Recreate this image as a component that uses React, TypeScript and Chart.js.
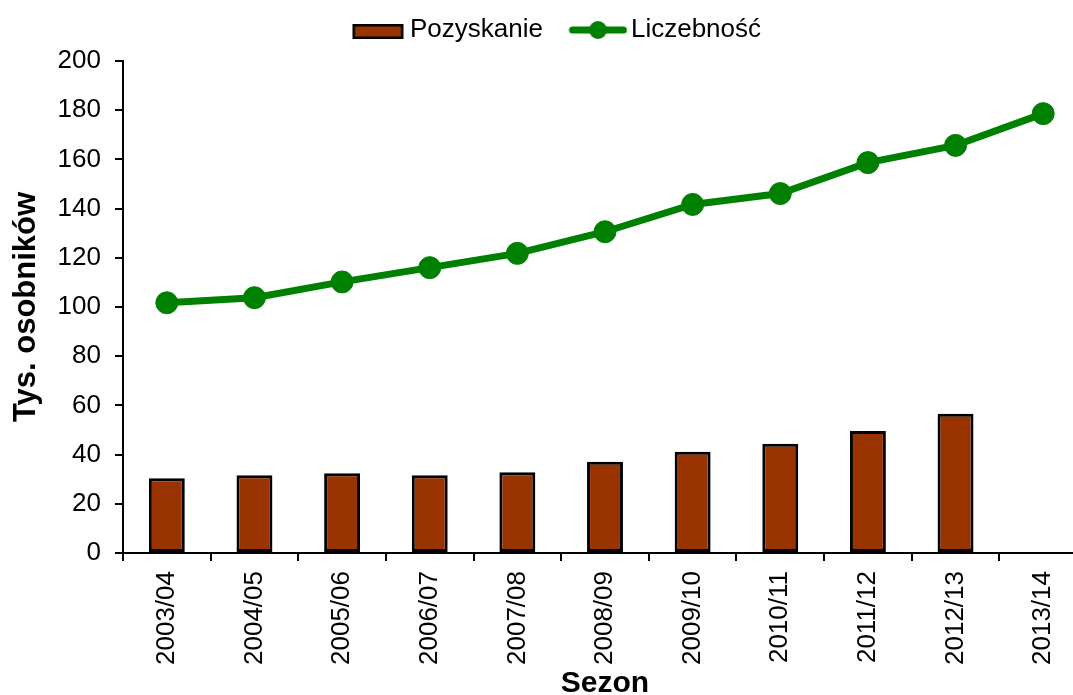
import React, { useEffect, useRef } from "react";
import { Chart, registerables } from "chart.js";

Chart.register(...registerables);

// ---- data ----
const seasons = [
  "2003/04", "2004/05", "2005/06", "2006/07", "2007/08", "2008/09",
  "2009/10", "2010/11", "2011/12", "2012/13", "2013/14",
];
const pozyskanie: (number | null)[] = [30.4, 31.6, 32.4, 31.6, 32.8, 37.1, 41.2, 44.4, 49.6, 56.6, null];
const liczebnosc = [101.7, 103.8, 110.2, 116.0, 121.8, 130.6, 141.7, 146.1, 158.7, 165.7, 178.6];
const yMin = 0;
const yMax = 200;
const yStep = 20;
const seriesNames = ["Pozyskanie", "Liczebność"];
const xTitle = "Sezon";
const yTitle = "Tys. osobników";

// ---- style ----
const FONT = "'Liberation Sans', Arial, Helvetica, sans-serif";
const BAR_COLOR = "#993300";
const GREEN = "#008000";
const VIEW_W = 1073;
const VIEW_H = 695;
const W = 1100;
const H = 695;
const LEGEND_TOP = 13;
const LEGEND_HEIGHT = 48;

function makeBoxImage(): HTMLCanvasElement {
  const c = document.createElement("canvas");
  c.width = 90;
  c.height = 20;
  const ctx = c.getContext("2d")!;
  ctx.fillStyle = BAR_COLOR;
  ctx.fillRect(36, 4, 51, 15);
  ctx.strokeStyle = "#000";
  ctx.lineWidth = 2.5;
  ctx.strokeRect(37.25, 5.25, 48.5, 12.5);
  return c;
}

function makeLineImage(): HTMLCanvasElement {
  const c = document.createElement("canvas");
  c.width = 90;
  c.height = 20;
  const ctx = c.getContext("2d")!;
  ctx.strokeStyle = GREEN;
  ctx.lineWidth = 7;
  ctx.lineCap = "round";
  ctx.beginPath();
  ctx.moveTo(35, 10);
  ctx.lineTo(86, 10);
  ctx.stroke();
  ctx.fillStyle = GREEN;
  ctx.beginPath();
  ctx.arc(60.5, 10, 9, 0, Math.PI * 2);
  ctx.fill();
  return c;
}

const legendSpacer = {
  id: "legendSpacer",
  beforeLayout(chart: any) {
    const lg = chart.legend;
    if (lg && !lg.__patched) {
      const orig = lg.fit.bind(lg);
      lg.fit = function () {
        orig();
        this.height = LEGEND_HEIGHT;
      };
      lg.__patched = true;
    }
  },
};

export default function App() {
  const ref = useRef<HTMLCanvasElement>(null);

  useEffect(() => {
    document.documentElement.style.overflow = "hidden";
    document.body.style.overflow = "hidden";
    const boxImg = makeBoxImage();
    const lineImg = makeLineImage();

    const chart = new Chart(ref.current!, {
      type: "bar",
      data: {
        labels: seasons,
        datasets: [
          {
            type: "bar",
            label: seriesNames[0],
            data: pozyskanie,
            backgroundColor: BAR_COLOR,
            borderColor: "#000",
            borderWidth: 3,
            borderSkipped: false,
            barPercentage: 0.41,
            categoryPercentage: 1,
          } as any,
          {
            type: "line",
            label: seriesNames[1],
            data: liczebnosc,
            borderColor: GREEN,
            backgroundColor: GREEN,
            borderWidth: 7,
            pointRadius: 11,
            pointBackgroundColor: GREEN,
            pointBorderColor: GREEN,
            pointBorderWidth: 1,
            tension: 0,
          } as any,
        ],
      },
      plugins: [legendSpacer as any],
      options: {
        responsive: false,
        animation: false,
        devicePixelRatio: 1,
        layout: { padding: { top: LEGEND_TOP, left: 0, right: 13, bottom: -7 } },
        plugins: {
          tooltip: { enabled: false },
          legend: {
            display: true,
            position: "top",
            labels: {
              font: { family: FONT, size: 26 },
              color: "#000",
              usePointStyle: true,
              pointStyleWidth: 71,
              padding: 4,
              generateLabels: (ch: any) => {
                const items = (Chart.defaults as any).plugins.legend.labels.generateLabels(ch);
                items.forEach((it: any) => {
                  it.pointStyle = it.datasetIndex === 0 ? boxImg : lineImg;
                });
                return items;
              },
            },
          },
        },
        scales: {
          x: {
            grid: {
              display: true,
              drawOnChartArea: false,
              drawTicks: true,
              tickLength: 8,
              color: "#000",
              lineWidth: 2,
              offset: true,
            },
            border: { display: true, color: "#000", width: 2 },
            ticks: {
              font: { family: FONT, size: 26 },
              color: "#000",
              maxRotation: 90,
              minRotation: 90,
              padding: 10,
              autoSkip: false,
            },
            title: {
              display: true,
              text: xTitle,
              color: "#000",
              font: { family: FONT, size: 30, weight: "bold" },
              padding: { top: 0, bottom: 0 },
            },
            afterFit: (s: any) => {
              s.height = 149;
              s.paddingLeft = 0;
              s.paddingRight = 0;
            },
          },
          y: {
            min: yMin,
            max: yMax,
            ticks: {
              stepSize: yStep,
              font: { family: FONT, size: 26 },
              color: "#000",
              padding: 14,
            },
            grid: {
              display: true,
              drawOnChartArea: false,
              drawTicks: true,
              tickLength: 8,
              color: "#000",
              lineWidth: 2,
            },
            border: { display: true, color: "#000", width: 2 },
            title: {
              display: true,
              text: yTitle,
              color: "#000",
              font: { family: FONT, size: 31, weight: "bold" },
              padding: { top: 8, bottom: 0 },
            },
            afterFit: (s: any) => {
              s.width = 123;
            },
          },
        },
      } as any,
    });
    return () => chart.destroy();
  }, []);

  return (
    <div style={{ position: "absolute", left: 0, top: 0, width: VIEW_W, height: VIEW_H, overflow: "hidden" }}>
      <canvas ref={ref} width={W} height={H} style={{ width: W, height: H, display: "block" }} />
    </div>
  );
}
